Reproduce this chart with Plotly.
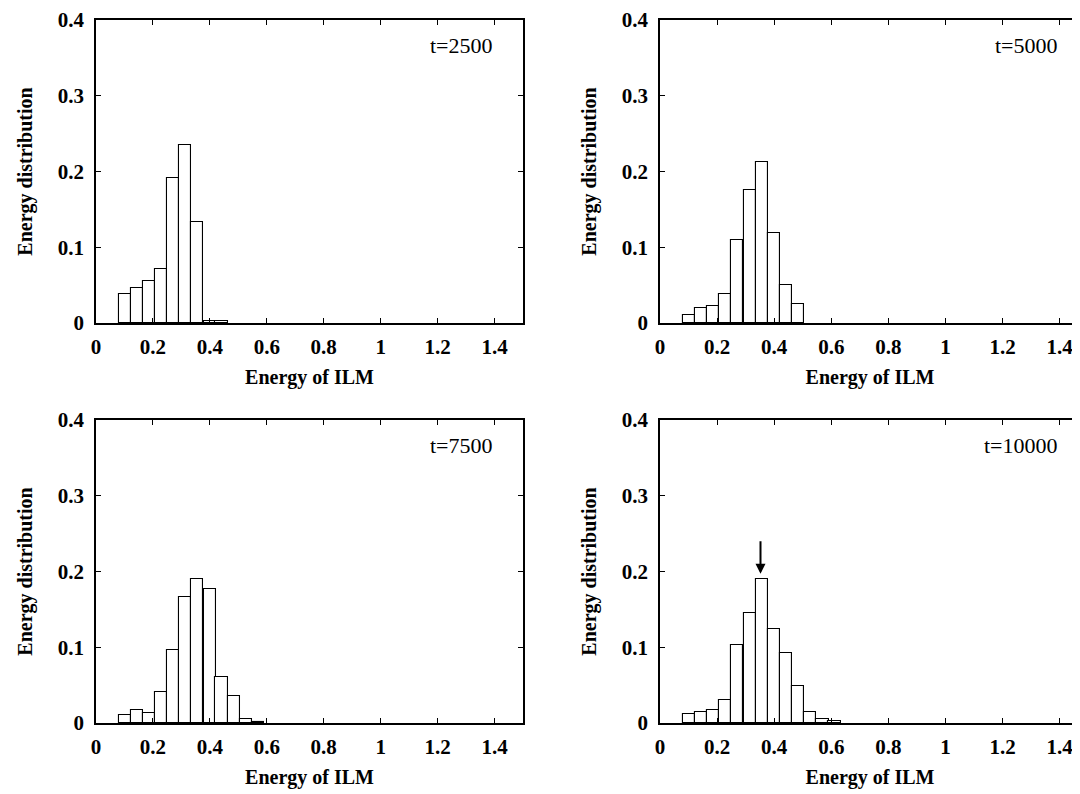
import plotly.graph_objects as go
from plotly.subplots import make_subplots

# bin centres of the energy histogram (bin width ~0.0425)
energy_bins = [0.101, 0.144, 0.186, 0.229, 0.271, 0.314, 0.356, 0.399, 0.441, 0.484, 0.526, 0.569, 0.611]
bin_width = 0.0425

# energy distribution at each time
dist_t2500 = [0.038, 0.046, 0.055, 0.071, 0.191, 0.235, 0.133, 0.003, 0.002]
dist_t5000 = [0.011, 0.020, 0.023, 0.038, 0.109, 0.176, 0.213, 0.119, 0.050, 0.025]
dist_t7500 = [0.011, 0.017, 0.013, 0.041, 0.096, 0.166, 0.190, 0.177, 0.061, 0.036, 0.005, 0.001]
dist_t10000 = [0.012, 0.014, 0.017, 0.030, 0.103, 0.145, 0.190, 0.124, 0.092, 0.049, 0.014, 0.005, 0.002]

panel_labels = ["t=2500", "t=5000", "t=7500", "t=10000"]
x_ticks = [0, 0.2, 0.4, 0.6, 0.8, 1, 1.2, 1.4]
y_ticks = [0, 0.1, 0.2, 0.3, 0.4]

FONT = "Liberation Serif"

fig = make_subplots(rows=2, cols=2)

series = [dist_t2500, dist_t5000, dist_t7500, dist_t10000]
positions = [(1, 1), (1, 2), (2, 1), (2, 2)]
for (r, c), vals in zip(positions, series):
    fig.add_trace(go.Bar(x=energy_bins[:len(vals)], y=vals, width=bin_width,
                         marker=dict(color="white", line=dict(color="black", width=1.1)),
                         showlegend=False), row=r, col=c)

# panel positions (paper fractions), page has an 8px body margin
x_left = [0.0821, 0.4804]
x_right = [0.6082, 1.0]
y_top = [0.5992, 0.9847]
y_bot = [0.0903, 0.4758]
domains = {"xaxis": x_left, "xaxis2": x_right, "xaxis3": x_left, "xaxis4": x_right,
           "yaxis": y_top, "yaxis2": y_top, "yaxis3": y_bot, "yaxis4": y_bot}

for i in range(1, 5):
    sfx = "" if i == 1 else str(i)
    right = i in (2, 4)
    fig.layout["xaxis" + sfx].update(
        domain=domains["xaxis" + sfx],
        range=[0, 1.471 if right else 1.5],
        tickvals=x_ticks, ticktext=["0", "0.2", "0.4", "0.6", "0.8", "1", "1.2", "1.4"],
        ticks="inside", ticklen=5, tickcolor="black", ticklabelstandoff=4,
        showline=True, linecolor="black", linewidth=1.5, mirror="allticks",
        showgrid=False, zeroline=False, automargin=False,
        tickfont=dict(family=FONT, size=21, color="black", weight="bold"),
        title=dict(text="<b>Energy of ILM</b>", standoff=12,
                   font=dict(family=FONT, size=20, color="black")))
    fig.layout["yaxis" + sfx].update(
        domain=domains["yaxis" + sfx],
        range=[0, 0.4],
        tickvals=y_ticks, ticktext=["0", "0.1", "0.2", "0.3", "0.4"],
        ticks="inside", ticklen=5, tickcolor="black", ticklabelstandoff=6,
        showline=True, linecolor="black", linewidth=1.5,
        mirror=False if right else "allticks",
        showgrid=False, zeroline=False, automargin=False,
        tickfont=dict(family=FONT, size=21, color="black", weight="bold"),
        title=dict(text="<b>Energy distribution</b>", standoff=20,
                   font=dict(family=FONT, size=20, color="black")))

# time labels in the top right corner of each panel
for i, txt in enumerate(panel_labels, start=1):
    sfx = "" if i == 1 else str(i)
    fig.add_annotation(x=1.40, y=0.367, xref="x" + sfx, yref="y" + sfx, text=txt,
                       showarrow=False, xanchor="right",
                       font=dict(family=FONT, size=22, color="black"))

# arrow marking the peak at t=10000
fig.add_annotation(x=0.352, y=0.197, xref="x4", yref="y4", text="",
                   showarrow=True, arrowhead=2, arrowsize=1, arrowwidth=2,
                   arrowcolor="black", ax=0, ay=-34)

fig.update_layout(width=1072, height=786, margin=dict(l=0, r=0, t=0, b=0),
                  paper_bgcolor="white", plot_bgcolor="white", bargap=0)

fig.write_html("out.html")
